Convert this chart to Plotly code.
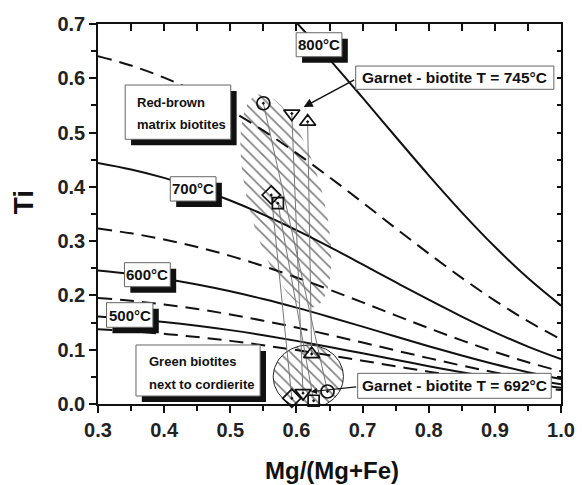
import numpy as np
import plotly.graph_objects as go

# ---------------- data ----------------
mg_number = [0.30, 0.35, 0.40, 0.45, 0.50, 0.55, 0.60, 0.65, 0.70, 0.75, 0.80, 0.85, 0.90, 0.95, 1.00]

ti_450 = [0.1377, 0.1340, 0.1292, 0.1233, 0.1163, 0.1082, 0.0993, 0.0898, 0.0798, 0.0696, 0.0596, 0.0499, 0.0409, 0.0328, 0.0256]
ti_500 = [0.1612, 0.1568, 0.1512, 0.1443, 0.1361, 0.1267, 0.1163, 0.1051, 0.0934, 0.0815, 0.0697, 0.0584, 0.0479, 0.0384, 0.0300]
ti_550 = [0.1954, 0.1901, 0.1833, 0.1749, 0.1649, 0.1535, 0.1409, 0.1273, 0.1132, 0.0987, 0.0845, 0.0708, 0.0581, 0.0465, 0.0364]
ti_600 = [0.2460, 0.2394, 0.2308, 0.2202, 0.2077, 0.1934, 0.1775, 0.1604, 0.1425, 0.1243, 0.1064, 0.0892, 0.0731, 0.0586, 0.0458]
ti_650 = [0.3232, 0.3144, 0.3031, 0.2893, 0.2728, 0.2540, 0.2331, 0.2106, 0.1872, 0.1633, 0.1398, 0.1172, 0.0961, 0.0769, 0.0601]
ti_700 = [0.4441, 0.4321, 0.4166, 0.3975, 0.3749, 0.3490, 0.3203, 0.2895, 0.2572, 0.2244, 0.1921, 0.1610, 0.1320, 0.1057, 0.0826]
ti_750 = [0.6408, 0.6235, 0.6011, 0.5736, 0.5409, 0.5036, 0.4622, 0.4177, 0.3712, 0.3238, 0.2772, 0.2323, 0.1905, 0.1525, 0.1192]
ti_800 = [0.9742, 0.9478, 0.9138, 0.8720, 0.8224, 0.7656, 0.7027, 0.6350, 0.5642, 0.4923, 0.4213, 0.3531, 0.2896, 0.2319, 0.1812]

# biotite analyses: red-brown matrix biotites and green biotites next to cordierite
sample_symbols = ["circle-open-dot", "triangle-down-open-dot", "triangle-up-open-dot",
                  "diamond-open-dot", "square-open-dot"]
redbrown_mg = [0.550, 0.593, 0.617, 0.562, 0.572]
redbrown_ti = [0.554, 0.535, 0.520, 0.385, 0.370]
green_mg = [0.647, 0.610, 0.623, 0.593, 0.626]
green_ti = [0.023, 0.020, 0.092, 0.0105, 0.006]

isotherm_labels = ["500°C", "600°C", "700°C", "800°C"]

# ---------------- figure ----------------
FONT = "Liberation Sans, Arial, sans-serif"
PX_X = 674.3   # pixels per unit Mg#
PX_Y = 542.9   # pixels per unit Ti
DASH = "14px,8px"

fig = go.Figure()

hatch = dict(shape="\\", size=8, solidity=0.2, fgcolor="#000", bgcolor="rgba(0,0,0,0)")

# hatched field of red-brown biotites (tilted ellipse)
t = np.linspace(0, 2 * np.pi, 120)
ang = np.deg2rad(-15)
a_px, b_px = 110, 38
ex = b_px * np.cos(t)
ey = a_px * np.sin(t)
rx = ex * np.cos(ang) + ey * np.sin(ang)
ry = -ex * np.sin(ang) + ey * np.cos(ang)
fig.add_trace(go.Scatter(
    x=0.584 + rx / PX_X, y=0.374 + ry / PX_Y, mode="lines", fill="toself",
    line=dict(width=0, color="rgba(0,0,0,0)"), fillcolor="rgba(0,0,0,0)",
    fillpattern=hatch, showlegend=False, hoverinfo="skip"))

# hatched field of green biotites (circle)
fig.add_trace(go.Scatter(
    x=0.618 + 35.8 * np.cos(t) / PX_X, y=0.0503 + 31.7 * np.sin(t) / PX_Y,
    mode="lines", fill="toself",
    line=dict(width=1, color="#222"), fillcolor="rgba(0,0,0,0)",
    fillpattern=hatch, showlegend=False, hoverinfo="skip"))

# isotherms
for vals, dash in [(ti_450, DASH), (ti_500, "solid"), (ti_550, DASH),
                   (ti_600, "solid"), (ti_650, DASH), (ti_700, "solid"),
                   (ti_750, DASH), (ti_800, "solid")]:
    fig.add_trace(go.Scatter(x=mg_number, y=vals, mode="lines",
                             line=dict(color="#111", width=2, dash=dash, shape="spline"),
                             showlegend=False, hoverinfo="skip"))

# tie lines between matrix and cordierite-adjacent biotites
for i in range(len(redbrown_mg)):
    fig.add_trace(go.Scatter(x=[redbrown_mg[i], green_mg[i]], y=[redbrown_ti[i], green_ti[i]],
                             mode="lines", line=dict(color="#777", width=1),
                             showlegend=False, hoverinfo="skip"))

# sample markers
sizes = [13, 14, 14, 14, 11]
for i in range(len(redbrown_mg)):
    fig.add_trace(go.Scatter(x=[redbrown_mg[i], green_mg[i]], y=[redbrown_ti[i], green_ti[i]],
                             mode="markers", cliponaxis=False,
                             marker=dict(symbol=sample_symbols[i], size=sizes[i], color="#111",
                                         line=dict(width=1.7, color="#111")),
                             showlegend=False, hoverinfo="skip"))

# dummy trace for top/right tick axes
fig.add_trace(go.Scatter(x=[None], y=[None], xaxis="x2", yaxis="y2", showlegend=False, hoverinfo="skip"))

# label boxes: (x0, x1, y0, y1, shadow)
SDX, SDY = 6 / PX_X, 6 / PX_Y
boxes = [
    (0.5996, 0.6688, 0.6397, 0.6839, True),   # 800
    (0.4093, 0.4784, 0.3739, 0.4187, True),   # 700
    (0.3400, 0.4093, 0.2161, 0.2603, True),   # 600
    (0.3129, 0.3830, 0.1413, 0.1866, True),   # 500
    (0.3411, 0.5007, 0.4876, 0.5876, True),   # red-brown
    (0.3574, 0.5451, 0.0147, 0.1087, True),   # green
    (0.6896, 0.9892, 0.5797, 0.6226, False),  # 745
    (0.6926, 0.9852, 0.0105, 0.0565, False),  # 692
]
shapes = []
for x0, x1, y0, y1, sh in boxes:
    if sh:
        shapes.append(dict(type="rect", xref="x", yref="y", x0=x0 + SDX, x1=x1 + SDX,
                           y0=y0 - SDY, y1=y1 - SDY, fillcolor="#111", line=dict(width=0),
                           layer="above"))
    shapes.append(dict(type="rect", xref="x", yref="y", x0=x0, x1=x1, y0=y0, y1=y1,
                       fillcolor="white", line=dict(width=1, color="#666"), layer="above"))

annotations = []
bold = dict(family=FONT, color="#111", weight="bold")
# isotherm labels
for (x0, x1, y0, y1, _), lab in zip([boxes[3], boxes[2], boxes[1], boxes[0]], isotherm_labels):
    annotations.append(dict(x=(x0 + x1) / 2, y=(y0 + y1) / 2, xref="x", yref="y", text=lab,
                            showarrow=False, font=dict(size=15, **bold)))
# garnet-biotite boxes
for (x0, x1, y0, y1, _), lab in [(boxes[6], "Garnet - biotite T = 745°C"),
                                 (boxes[7], "Garnet - biotite T = 692°C")]:
    annotations.append(dict(x=(x0 + x1) / 2, y=(y0 + y1) / 2, xref="x", yref="y", text=lab,
                            showarrow=False, font=dict(size=15.5, **bold)))
# group labels
for txt, xx, yy in [("Red-brown", 0.3553, 0.555), ("matrix biotites", 0.3553, 0.514),
                    ("Green biotites", 0.3737, 0.0779), ("next to cordierite", 0.3737, 0.0368)]:
    annotations.append(dict(x=xx, y=yy, xref="x", yref="y", text=txt, xanchor="left",
                            showarrow=False, font=dict(size=13, **bold)))
# arrows
annotations.append(dict(x=0.611, y=0.547, ax=0.6896, ay=0.5986, xref="x", yref="y",
                        axref="x", ayref="y", text="", showarrow=True, arrowhead=2,
                        arrowsize=1.2, arrowwidth=1.5, arrowcolor="#111"))
annotations.append(dict(x=0.622, y=0.0227, ax=0.6926, ay=0.0319, xref="x", yref="y",
                        axref="x", ayref="y", text="", showarrow=True, arrowhead=2,
                        arrowsize=1, arrowwidth=1.2, arrowcolor="#111"))
# axis titles
annotations.append(dict(x=0.5057, y=-0.174, xref="paper", yref="paper", text="Mg/(Mg+Fe)",
                        showarrow=False, yanchor="middle", font=dict(size=24, **bold)))
annotations.append(dict(x=-0.161, y=0.532, xref="paper", yref="paper", text="Ti", textangle=-90,
                        showarrow=False, xanchor="center", yanchor="middle", font=dict(size=28, **bold)))

axis_common = dict(showgrid=False, zeroline=False, showline=True, linecolor="#111", linewidth=1.5,
                   ticks="outside", ticklen=7, tickwidth=1.5, tickcolor="#111",
                   tickfont=dict(family=FONT, size=20, color="#222", weight="bold"),
                   mirror=True, tickformat=".1f", dtick=0.1)

fig.update_layout(
    width=587, height=485, plot_bgcolor="white", paper_bgcolor="white",
    margin=dict(l=98, r=17, t=24, b=81, pad=0),
    xaxis=dict(range=[0.3, 1.0], tick0=0.3,
               minor=dict(dtick=0.05, ticks="outside", ticklen=5, tickwidth=1.5, tickcolor="#111"),
               **axis_common),
    yaxis=dict(range=[0, 0.7], tick0=0,
               minor=dict(dtick=0.05, ticks="outside", ticklen=5, tickwidth=1.5, tickcolor="#111"),
               **axis_common),
    xaxis2=dict(overlaying="x", matches="x", side="top", range=[0.3, 1.0], dtick=0.05, tick0=0.3,
                ticks="inside", ticklen=7, tickwidth=1.5, tickcolor="#111",
                showticklabels=False, showgrid=False, zeroline=False, showline=False),
    yaxis2=dict(overlaying="y", matches="y", side="right", range=[0, 0.7], dtick=0.05, tick0=0,
                ticks="inside", ticklen=4, tickwidth=1.5, tickcolor="#111",
                showticklabels=False, showgrid=False, zeroline=False, showline=False),
    shapes=shapes, annotations=annotations, showlegend=False,
)

fig.write_html("out.html", config={"displayModeBar": False},
               post_script="document.body.style.margin='0';")
